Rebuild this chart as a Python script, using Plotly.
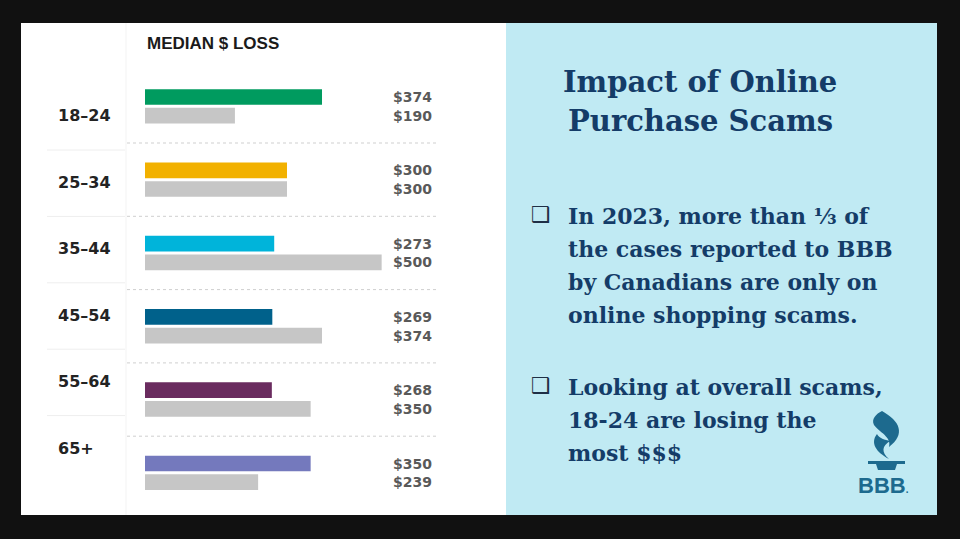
import plotly.graph_objects as go

# ---------------- data ----------------
age_groups = ["18–24", "25–34", "35–44", "45–54", "55–64", "65+"]
loss_colored = [374, 300, 273, 269, 268, 350]
loss_gray = [190, 300, 500, 374, 350, 239]
bar_colors = ["#009b5f", "#f2b100", "#00b4da", "#00618b", "#6a2c5f", "#7479bd"]
gray_color = "#c6c6c6"

header_text = "MEDIAN $ LOSS"
title_lines = ["Impact of Online", "Purchase Scams"]
bullet1_lines = ["In 2023, more than ⅓ of", "the cases reported to BBB",
                 "by Canadians are only on", "online shopping scams."]
bullet2_lines = ["Looking at overall scams,", "18-24 are losing the", "most $$$"]

# ---------------- helpers (pixel -> paper) ----------------
W, H = 960, 539
def px(x):
    return x / W
def py(y):
    return 1 - y / H

NAVY = "#143c68"
LOGO = "#1d6a8e"

fig = go.Figure()
fig.add_trace(go.Bar(
    y=age_groups, x=loss_colored, orientation="h",
    marker=dict(color=bar_colors, line=dict(width=0)),
    name="Median loss", hoverinfo="x+y"))
fig.add_trace(go.Bar(
    y=age_groups, x=loss_gray, orientation="h",
    marker=dict(color=gray_color, line=dict(width=0)),
    name="Median loss (online purchase)", hoverinfo="x+y"))

shapes = []
# panels
shapes.append(dict(type="rect", xref="paper", yref="paper", x0=px(21), x1=px(506),
                   y0=py(515), y1=py(23), fillcolor="#ffffff", line=dict(width=0), layer="below"))
shapes.append(dict(type="rect", xref="paper", yref="paper", x0=px(506), x1=px(937),
                   y0=py(515), y1=py(23), fillcolor="#c0eaf3", line=dict(width=0), layer="below"))
# faint column divider
shapes.append(dict(type="line", xref="paper", yref="paper", x0=px(126), x1=px(126),
                   y0=py(515), y1=py(23), line=dict(color="#f3f3f3", width=1), layer="below"))
# dotted separators between groups (category boundaries)
for i in range(len(age_groups) - 1):
    shapes.append(dict(type="line", xref="paper", yref="y", x0=px(127), x1=px(439),
                       y0=i + 0.5, y1=i + 0.5,
                       line=dict(color="#cfcfcf", width=1, dash="dot"), layer="below"))
# left column separators
label_y0, label_pitch = 116, 66.4
for k in range(len(age_groups) - 1):
    yy = label_y0 + 34 + label_pitch * k
    shapes.append(dict(type="line", xref="paper", yref="paper", x0=px(47), x1=px(125),
                       y0=py(yy), y1=py(yy), line=dict(color="#eeeeee", width=1), layer="below"))

# BBB torch logo
def path(pts_cmds):
    out = []
    for c in pts_cmds:
        if isinstance(c, str):
            out.append(c)
        else:
            out.append(f"{px(c[0]):.5f},{py(c[1]):.5f}")
    return " ".join(out)

flame_top = path(["M", (882, 411), "C", (900, 421), (906, 434), (889, 447),
                  "C", (892, 437), (879, 432), (874, 425),
                  "C", (871, 419), (876, 414), (882, 411), "Z"])
flame_low = path(["M", (877, 434), "C", (870, 443), (876, 452), (889, 459),
                  "C", (881, 452), (882, 446), (890, 441),
                  "C", (885, 440), (879, 438), (877, 434), "Z"])
torch_base = path(["M", (868, 461), "L", (905, 461), "L", (905, 464), "L", (897, 464),
                   "L", (895, 470), "L", (878, 470), "L", (876, 464), "L", (868, 464), "Z"])
for p in (flame_top, flame_low, torch_base):
    shapes.append(dict(type="path", xref="paper", yref="paper", path=p,
                       fillcolor=LOGO, line=dict(width=0)))

annotations = []
# header
annotations.append(dict(xref="paper", yref="paper", x=px(145), y=py(44), xanchor="left",
                        yanchor="middle", showarrow=False, text=f"<b>{header_text}</b>",
                        font=dict(family="Liberation Sans", size=17, color="#1a1a1a")))
# age labels
for k, a in enumerate(age_groups):
    annotations.append(dict(xref="paper", yref="paper", x=px(56), y=py(label_y0 + label_pitch * k),
                            xanchor="left", yanchor="middle", showarrow=False, text=f"<b>{a}</b>",
                            font=dict(family="DejaVu Sans", size=16, color="#232323")))
# value labels
for a, v1, v2 in zip(age_groups, loss_colored, loss_gray):
    for v, shift in ((v1, 9.35), (v2, -9.35)):
        annotations.append(dict(xref="paper", yref="y", x=px(434), y=a, yshift=shift,
                                xanchor="right", yanchor="middle", showarrow=False,
                                text=f"<b>${v}</b>",
                                font=dict(family="DejaVu Sans", size=14, color="#595959")))
# title
for k, t in enumerate(title_lines):
    annotations.append(dict(xref="paper", yref="paper", x=px(700), y=py(82 + 39 * k),
                            xanchor="center", yanchor="middle", showarrow=False, text=f"<b>{t}</b>",
                            font=dict(family="DejaVu Serif", size=29, color=NAVY)))
# bullets
for lines, y0, by in ((bullet1_lines, 216, 214), (bullet2_lines, 387, 385)):
    annotations.append(dict(xref="paper", yref="paper", x=px(529), y=py(by), xanchor="left",
                            yanchor="middle", showarrow=False, text="<b>❑</b>",
                            font=dict(family="DejaVu Sans", size=22, color="#1f2f45")))
    for k, t in enumerate(lines):
        annotations.append(dict(xref="paper", yref="paper", x=px(566), y=py(y0 + 33 * k),
                                xanchor="left", yanchor="middle", showarrow=False,
                                text=f"<b>{t}</b>",
                                font=dict(family="DejaVu Serif", size=22, color=NAVY)))
# BBB wordmark
annotations.append(dict(xref="paper", yref="paper", x=px(856), y=py(485), xanchor="left",
                        yanchor="middle", showarrow=False,
                        text="<b>BBB</b><span style='font-size:10px'><b>.</b></span>",
                        font=dict(family="Liberation Sans", size=22, color=LOGO)))

fig.update_layout(
    width=W, height=H, margin=dict(l=0, r=0, t=0, b=0),
    paper_bgcolor="#111111", plot_bgcolor="rgba(0,0,0,0)",
    barmode="group", bargap=0.49, bargroupgap=0.16, showlegend=False,
    xaxis=dict(domain=[px(145), px(439)], range=[0, (439 - 145) / 0.4733],
               visible=False, fixedrange=True),
    yaxis=dict(domain=[py(515), py(22)], range=[5.575, -1.1508], type="category",
               categoryorder="array", categoryarray=age_groups, visible=False, fixedrange=True),
    shapes=shapes, annotations=annotations,
)

fig.write_html("out.html", config={"displayModeBar": False},
               post_script="document.body.style.margin='0';document.body.style.background='#111111';")
